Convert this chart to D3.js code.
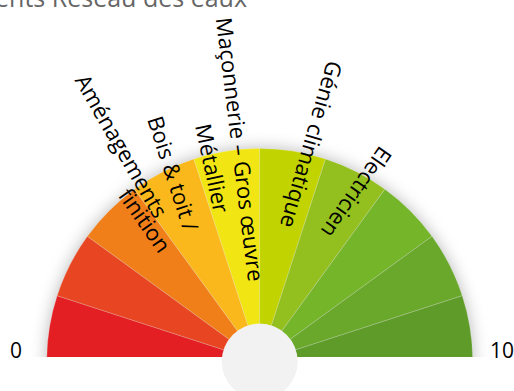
<!DOCTYPE html>
<html><head><meta charset="utf-8">
<script src="https://cdn.jsdelivr.net/npm/d3@7"></script>
<style>html,body{margin:0;padding:0;background:#fff;overflow:hidden}</style>
</head><body>
<svg id="chart" width="514" height="391"></svg>
<script>
// Gauge scale and colour bands
const scoreMin = 0, scoreMax = 10;
const bandStarts = [0, 1, 2, 3, 4, 5, 6, 7, 8, 9];
const bandEnds   = [1, 2, 3, 4, 5, 6, 7, 8, 9, 10];
const bandColors = ["#E41F23", "#E84522", "#F07F1A", "#FBB81D", "#F1E614",
                    "#C1D300", "#93C01F", "#75B52A", "#69A82B", "#5E9B29"];
const tickLabels = ["0", "10"];
const titleText = "Équipements Réseau des eaux";

// Trade labels and where they sit on the 0–10 scale
const tradeLabels = ["Aménagements", "finition", "Bois & toit /", "Métallier",
                     "Maçonnerie – Gros œuvre", "Génie climatique", "Electricien"];
const tradeAt = [3.18, 2.82, 3.62, 4.23, 4.70, 5.74, 6.65];

// Label layout: distance from the hub and text rotation (deg)
const labelRadius = [256, 182, 207, 199, 213, 223, 195];
const labelRotation = [60, 55, 72, 78, 83, 106, 125];

const W = 514, H = 391;
const cx = 259.7, cy = 361.5, outerR = 213, hubR = 38, clipY = 357;
const font = "'Open Sans', sans-serif";

const svg = d3.select("#chart");
const defs = svg.append("defs");
defs.append("clipPath").attr("id", "pane")
  .append("rect").attr("x", 0).attr("y", 0).attr("width", W).attr("height", clipY);
const f = defs.append("filter").attr("id", "soft")
  .attr("x", "-20%").attr("y", "-20%").attr("width", "140%").attr("height", "140%");
f.append("feGaussianBlur").attr("stdDeviation", 8);

const angle = d3.scaleLinear().domain([scoreMin, scoreMax]).range([-Math.PI / 2, Math.PI / 2]);

// title (runs past the top edge of the frame)
svg.append("text")
  .attr("x", 247).attr("y", 7)
  .attr("text-anchor", "end")
  .attr("font-family", font).attr("font-size", 25)
  .attr("fill", "#666")
  .text(titleText);

const pane = svg.append("g").attr("clip-path", "url(#pane)");
const g = pane.append("g").attr("transform", `translate(${cx},${cy})`);

// soft shadow behind the dial
g.append("path")
  .attr("d", d3.arc().innerRadius(0).outerRadius(outerR)
    .startAngle(angle(scoreMin) - 0.05).endAngle(angle(scoreMax) + 0.05)())
  .attr("fill", "#000").attr("fill-opacity", 0.28)
  .attr("filter", "url(#soft)");

const arc = d3.arc().innerRadius(0).outerRadius(outerR);
g.selectAll("path.band")
  .data(bandStarts.map((s, i) => ({ s, e: bandEnds[i], c: bandColors[i] })))
  .join("path")
  .attr("class", "band")
  .attr("d", d => arc({ startAngle: angle(d.s), endAngle: angle(d.e) }))
  .attr("fill", d => d.c)
  .attr("stroke", "#fff").attr("stroke-opacity", 0.35).attr("stroke-width", 0.6);

// hub
svg.append("circle").attr("cx", cx).attr("cy", cy).attr("r", hubR).attr("fill", "#F2F2F2");

// trade labels
const lab = svg.append("g");
tradeLabels.forEach((t, i) => {
  const a = angle(tradeAt[i]);
  const x = cx + labelRadius[i] * Math.sin(a);
  const y = cy - labelRadius[i] * Math.cos(a);
  lab.append("text")
    .attr("transform", `translate(${x},${y}) rotate(${labelRotation[i]})`)
    .attr("text-anchor", "middle").attr("dy", "0.35em")
    .attr("font-family", font).attr("font-size", 22)
    .attr("fill", "#000")
    .text(t);
});

// scale end labels
svg.append("text").attr("x", 22).attr("y", 358).attr("text-anchor", "end")
  .attr("font-family", font).attr("font-size", 21).attr("fill", "#000").text(tickLabels[0]);
svg.append("text").attr("x", 490).attr("y", 358).attr("text-anchor", "start")
  .attr("font-family", font).attr("font-size", 21).attr("fill", "#000").text(tickLabels[1]);
</script>
</body></html>
